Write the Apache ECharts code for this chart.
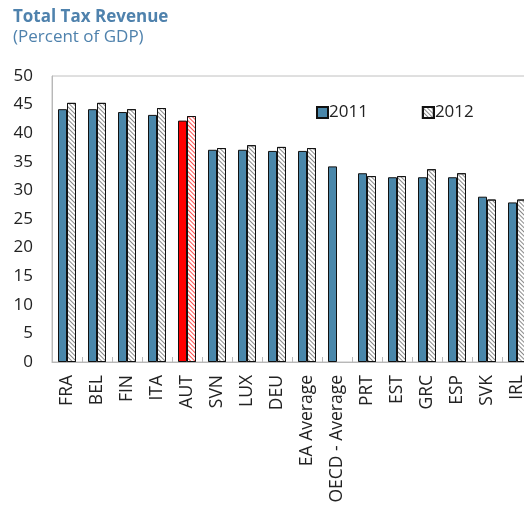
<!DOCTYPE html>
<html>
<head>
<meta charset="utf-8">
<script src="https://cdn.jsdelivr.net/npm/echarts@6/dist/echarts.min.js"></script>
<style>
  html, body { margin: 0; padding: 0; background: #fff; }
  #chart { width: 524px; height: 506px; }
</style>
</head>
<body>
<div id="chart"></div>
<script>
// Total tax revenue, percent of GDP
const categories = ['FRA', 'BEL', 'FIN', 'ITA', 'AUT', 'SVN', 'LUX', 'DEU', 'EA Average',
  'OECD - Average', 'PRT', 'EST', 'GRC', 'ESP', 'SVK', 'IRL'];
const values2011 = [44.2, 44.2, 43.7, 43.2, 42.2, 37.1, 37.1, 36.9, 36.9, 34.2, 33.0, 32.3, 32.3, 32.3, 28.9, 27.9];
const values2012 = [45.3, 45.3, 44.2, 44.4, 43.0, 37.4, 37.9, 37.6, 37.4, null, 32.5, 32.5, 33.7, 33.0, 28.4, 28.4];
const yTicks = [0, 5, 10, 15, 20, 25, 30, 35, 40, 45, 50];
const highlight = 'AUT';

const FONT = '"Open Sans", "DejaVu Sans", sans-serif';
const BLUE = '#4a87aa';
// fine diagonal hatching for the 2012 bars
const hatch = (color) => ({
  symbol: 'rect',
  color: color,
  dashArrayX: [1, 0],
  dashArrayY: [1, 1.2],
  rotation: Math.PI / 4,
  symbolSize: 1
});

const data2011 = values2011.map((v, i) => categories[i] === highlight
  ? { value: v, itemStyle: { color: '#ff0000' } }
  : v);
const data2012 = values2012.map((v, i) => categories[i] === highlight
  ? { value: v, itemStyle: { color: '#ffffff', decal: hatch('#ff5050') } }
  : v);

const chart = echarts.init(document.getElementById('chart'));
chart.setOption({
  animation: false,
  title: {
    text: 'Total Tax Revenue',
    subtext: '(Percent of GDP)',
    left: 8,
    top: 4,
    itemGap: 3,
    textStyle: { fontFamily: FONT, fontSize: 17, fontWeight: 'bold', color: '#4f82ad' },
    subtextStyle: { fontFamily: FONT, fontSize: 17, color: '#4f82ad' }
  },
  legend: {
    left: 311,
    top: 99,
    itemWidth: 11,
    itemHeight: 11,
    itemGap: 54,
    icon: 'rect',
    textStyle: { fontFamily: FONT, fontSize: 17, color: '#222', padding: [0, 0, 0, -4] },
    data: ['2011', '2012']
  },
  grid: {
    left: 52,
    width: 480,
    top: 76,
    bottom: 144,
    outerBoundsMode: 'none',
    containLabel: false,
    show: true,
    borderColor: '#c0c0c0',
    borderWidth: 1
  },
  xAxis: {
    type: 'category',
    data: categories,
    axisLine: { lineStyle: { color: '#b8b8b8' } },
    axisTick: { show: true, inside: true, length: 5, lineStyle: { color: '#b8b8b8' } },
    axisLabel: {
      rotate: 90,
      interval: 0,
      margin: 13,
      fontFamily: FONT,
      fontSize: 17.5,
      color: '#222'
    }
  },
  yAxis: {
    type: 'value',
    min: yTicks[0],
    max: yTicks[yTicks.length - 1],
    interval: yTicks[1] - yTicks[0],
    splitLine: { show: false },
    axisLine: { show: true, lineStyle: { color: '#b8b8b8' } },
    axisTick: { show: false },
    axisLabel: { fontFamily: FONT, fontSize: 17, color: '#222', margin: 19 }
  },
  series: [
    {
      name: '2011',
      type: 'bar',
      data: data2011,
      barWidth: 9,
      barGap: '0%',
      itemStyle: { color: BLUE, borderColor: '#111', borderWidth: 1 }
    },
    {
      name: '2012',
      type: 'bar',
      data: data2012,
      barWidth: 9,
      barGap: '0%',
      itemStyle: { color: '#ffffff', borderColor: '#111', borderWidth: 1, decal: hatch('#8a8a8a') }
    }
  ]
});
</script>
</body>
</html>
